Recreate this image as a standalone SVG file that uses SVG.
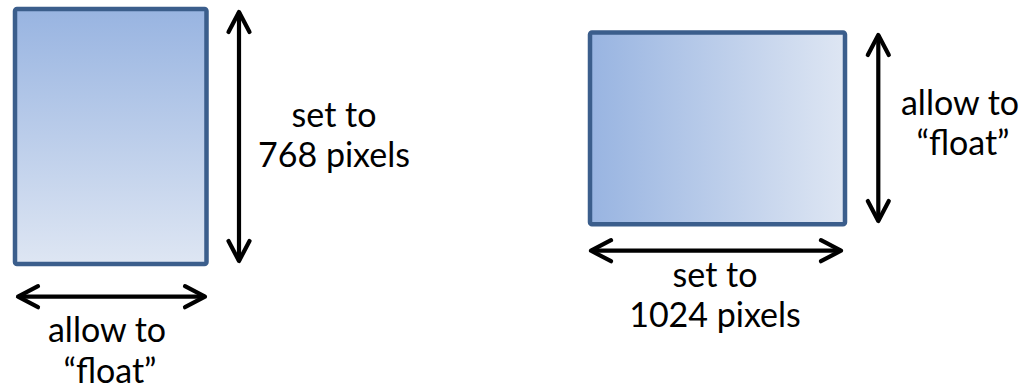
<svg xmlns="http://www.w3.org/2000/svg" width="1024" height="391" viewBox="0 0 1024 391">
  <style>
    .box { stroke: #3B5E8C; stroke-width: 4.5; }
    .arr { stroke: #000; stroke-width: 4.2; fill: none; marker-start: url(#head); marker-end: url(#head); }
    .lbl { font-family: Lato, "Open Sans", sans-serif; font-size: 34px; fill: #000; text-anchor: middle; }
  </style>
  <defs>
    <linearGradient id="gV" x1="0" y1="0" x2="0" y2="1">
      <stop offset="0" stop-color="#98B4E1"/>
      <stop offset="1" stop-color="#DEE6F3"/>
    </linearGradient>
    <linearGradient id="gH" x1="0" y1="0" x2="1" y2="0">
      <stop offset="0" stop-color="#98B4E1"/>
      <stop offset="1" stop-color="#DEE6F3"/>
    </linearGradient>
    <marker id="head" markerUnits="userSpaceOnUse" orient="auto-start-reverse" refX="0" refY="0" markerWidth="40" markerHeight="40" viewBox="-30 -20 40 40" overflow="visible">
      <path d="M -20 -10.5 L 0 0 L -20 10.5" fill="none" stroke="#000" stroke-width="4.2" stroke-linecap="round" stroke-linejoin="round"/>
    </marker>
  </defs>

  <g id="portrait-screen">
    <rect class="box" x="15" y="9" width="191.5" height="255" rx="2" fill="url(#gV)"/>
  </g>
  <g id="landscape-screen">
    <rect class="box" x="590" y="32.5" width="255" height="191.7" rx="2" fill="url(#gH)"/>
  </g>

  <g id="connectors">
    <line class="arr" x1="239" y1="12" x2="239" y2="261"/>
    <line class="arr" x1="18" y1="296.7" x2="205" y2="296.7"/>
    <line class="arr" x1="878.3" y1="35" x2="878.3" y2="221"/>
    <line class="arr" x1="591" y1="250.7" x2="841" y2="250.7"/>
  </g>

  <g id="label-portrait-height">
    <text class="lbl" x="334" y="127">set to</text>
    <text class="lbl" x="334" y="167">768 pixels</text>
  </g>
  <g id="label-portrait-width">
    <text class="lbl" x="107" y="342">allow to</text>
    <text class="lbl" x="110" y="383">“float”</text>
  </g>
  <g id="label-landscape-height">
    <text class="lbl" x="960" y="115">allow to</text>
    <text class="lbl" x="963" y="155">“float”</text>
  </g>
  <g id="label-landscape-width">
    <text class="lbl" x="715" y="287">set to</text>
    <text class="lbl" x="715" y="327">1024 pixels</text>
  </g>
</svg>
